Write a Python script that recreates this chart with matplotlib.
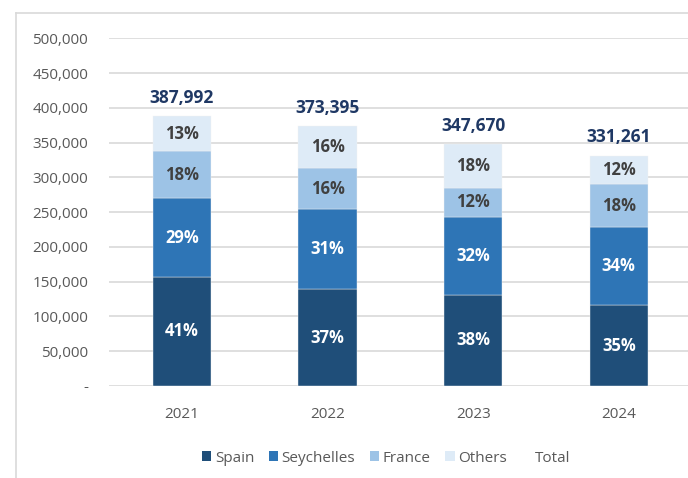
import matplotlib
matplotlib.use("Agg")
import matplotlib.pyplot as plt
from matplotlib.patches import Patch
from matplotlib.lines import Line2D
from matplotlib.ticker import FuncFormatter
import numpy as np

plt.rcParams['font.family'] = ['Open Sans', 'DejaVu Sans']

years = ["2021", "2022", "2023", "2024"]
totals = [387992, 373395, 347670, 331261]
spain = [157000, 139000, 131500, 116000]
seychelles = [113000, 115000, 111500, 113000]
france = [68000, 59500, 42000, 61000]
others = [t - a - b - c for t, a, b, c in zip(totals, spain, seychelles, france)]
pct_spain = [41, 37, 38, 35]
pct_seychelles = [29, 31, 32, 34]
pct_france = [18, 16, 12, 18]
pct_others = [13, 16, 18, 12]

series = [
    ("Spain", spain, pct_spain, "#1F4E79", "white"),
    ("Seychelles", seychelles, pct_seychelles, "#2E75B6", "white"),
    ("France", france, pct_france, "#9DC3E6", "#404040"),
    ("Others", others, pct_others, "#DEEBF7", "#404040"),
]

W, H = 688, 478
fig = plt.figure(figsize=(W / 100, H / 100), dpi=100)
left, right = 109 / W, 688 / W
bottom, top = 1 - 386 / H, 1 - 38.3 / H
ax = fig.add_axes([left, bottom, right - left, top - bottom])

x = np.arange(len(years))
base = np.zeros(len(years))
for name, vals, pcts, color, tcolor in series:
    vals = np.array(vals, dtype=float)
    ax.bar(x, vals, bottom=base, width=0.4, color=color, edgecolor="#F2F2F2",
           linewidth=0.3, label=name, zorder=3)
    for xi, b, v, p in zip(x, base, vals, pcts):
        ax.text(xi, b + v / 2, f"{p}%", ha="center", va="center",
                color=tcolor, fontsize=12, fontweight="bold", zorder=4)
    base = base + vals

for xi, t in zip(x, totals):
    ax.text(xi, t + 13500, f"{t:,}", ha="center", va="bottom", color="#1F3864",
            fontsize=12.5, fontweight="bold", zorder=4)

ax.set_ylim(0, 500000)
ax.set_xlim(-0.5, 3.475)
ax.set_yticks(np.arange(0, 500001, 50000))
ax.yaxis.set_major_formatter(FuncFormatter(lambda v, p: "-" if v == 0 else f"{int(v):,}"))
ax.set_xticks(x)
ax.set_xticklabels(years)
ax.tick_params(axis="both", length=0, colors="#595959", labelsize=11)
ax.tick_params(axis="y", pad=15)
ax.tick_params(axis="x", pad=15)
ax.grid(axis="y", color="#D9D9D9", linewidth=1.2, zorder=0)
for s in ax.spines.values():
    s.set_visible(False)

# chart frame
fig.add_artist(Line2D([16 / W, 16 / W], [0, 1 - 13 / H], transform=fig.transFigure,
                      color="#D9D9D9", linewidth=1.2))
fig.add_artist(Line2D([16 / W, 1], [1 - 13 / H, 1 - 13 / H], transform=fig.transFigure,
                      color="#D9D9D9", linewidth=1.2))

handles = [Patch(facecolor=c, edgecolor="none", label=n) for n, _, _, c, _ in series]
handles.append(Line2D([], [], color="none", label="Total"))
leg = fig.legend(handles=handles, loc="center", bbox_to_anchor=(0.561, 1 - 458 / H),
                 ncol=5, frameon=False, fontsize=11, handlelength=0.6,
                 handleheight=0.6, handletextpad=0.25, columnspacing=0.95)
for t in leg.get_texts():
    t.set_color("#595959")

fig.savefig("out.png", dpi=100)
